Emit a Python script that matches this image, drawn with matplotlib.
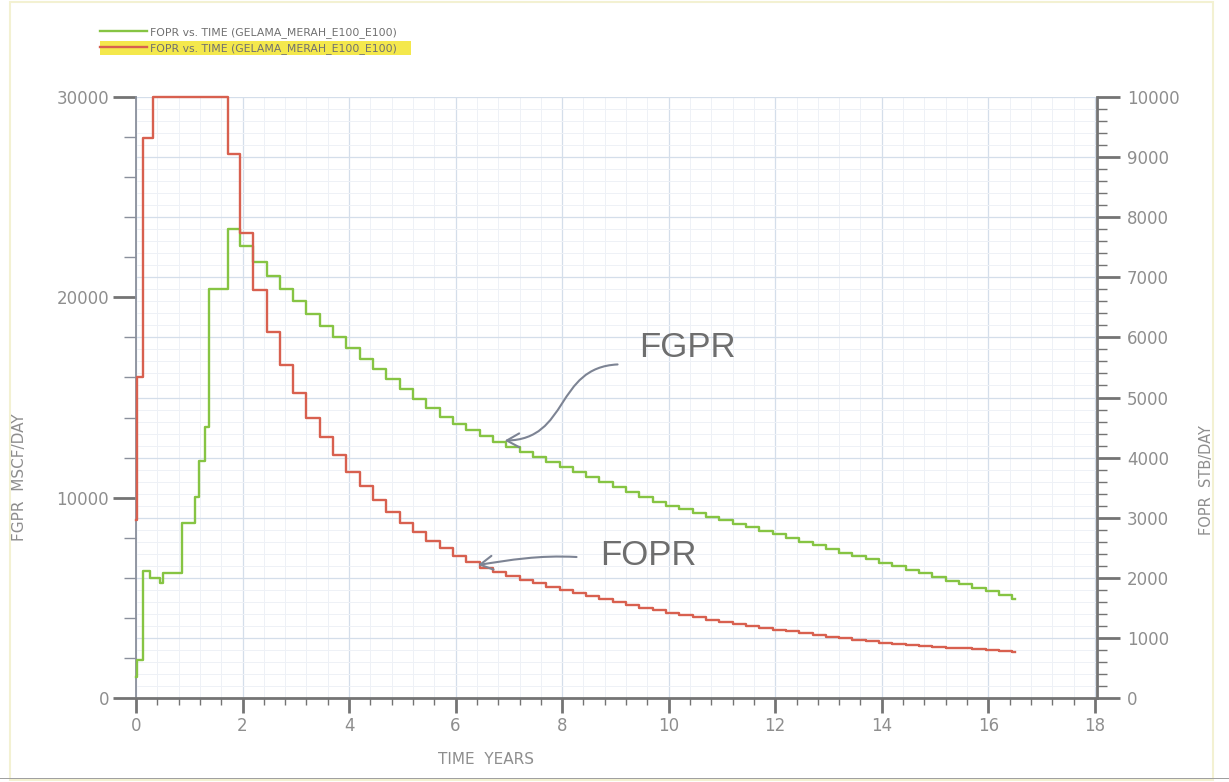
import matplotlib
matplotlib.use("Agg")
import matplotlib.pyplot as plt
from matplotlib.ticker import MultipleLocator
from matplotlib.patches import Rectangle, FancyArrowPatch
from matplotlib.path import Path

# ---------------- data ----------------
legend_labels = ["FOPR vs. TIME (GELAMA_MERAH_E100_E100)",
                 "FOPR vs. TIME (GELAMA_MERAH_E100_E100)"]

# early, irregular time steps (years)
fgpr_early_t = [0.0, 0.02, 0.13, 0.26, 0.45, 0.50, 0.86, 1.10, 1.18, 1.30, 1.37, 1.73]
fgpr_early_v = [1050, 1900, 6350, 6000, 5750, 6250, 8750, 10050, 11850, 13550, 20400, 23400]
fopr_early_t = [0.0, 0.02, 0.13, 0.32, 1.73]
fopr_early_v = [2960, 5340, 9320, 10000, 9050]

# quarterly report times (years)
report_t = [1.95, 2.20, 2.45, 2.70, 2.95, 3.20, 3.45, 3.70, 3.95, 4.20,
            4.45, 4.70, 4.95, 5.20, 5.45, 5.70, 5.95, 6.20, 6.45, 6.70,
            6.95, 7.20, 7.45, 7.70, 7.95, 8.20, 8.45, 8.70, 8.95, 9.20,
            9.45, 9.70, 9.95, 10.20, 10.45, 10.70, 10.95, 11.20, 11.45, 11.70,
            11.95, 12.20, 12.45, 12.70, 12.95, 13.20, 13.45, 13.70, 13.95, 14.20,
            14.45, 14.70, 14.95, 15.20, 15.45, 15.70, 15.95, 16.20, 16.45]
end_t = 16.5

# FGPR, MSCF/DAY (left axis)
fgpr_q = [22550, 21750, 21050, 20400, 19800, 19150, 18550, 18000, 17450, 16900,
          16400, 15900, 15400, 14950, 14500, 14050, 13700, 13380, 13080, 12800,
          12530, 12270, 12010, 11760, 11510, 11270, 11015, 10760, 10510, 10260,
          10010, 9800, 9600, 9410, 9230, 9050, 8870, 8700, 8530, 8360,
          8190, 8000, 7810, 7620, 7430, 7260, 7090, 6920, 6750, 6580,
          6400, 6220, 6040, 5860, 5680, 5500, 5320, 5140, 4950]

# FOPR, STB/DAY (right axis)
fopr_q = [7740, 6790, 6090, 5540, 5075, 4660, 4340, 4040, 3760, 3520,
          3300, 3100, 2920, 2760, 2620, 2490, 2370, 2260, 2170, 2100,
          2035, 1970, 1910, 1850, 1795, 1740, 1690, 1640, 1590, 1545,
          1500, 1460, 1420, 1380, 1340, 1305, 1270, 1235, 1200, 1168,
          1137, 1107, 1078, 1050, 1022, 995, 968, 942, 917, 901,
          886, 870, 855, 840, 826, 812, 798, 784, 770]

fgpr_t = fgpr_early_t + report_t + [end_t]
fgpr_v = fgpr_early_v + fgpr_q + [fgpr_q[-1]]
fopr_t = fopr_early_t + report_t + [end_t]
fopr_v = fopr_early_v + fopr_q + [fopr_q[-1]]

# ---------------- figure ----------------
W, H = 1229, 782
fig = plt.figure(figsize=(W / 100, H / 100), dpi=100)
fig.patch.set_facecolor("white")

green = "#86c443"
red = "#d8604f"
axis_gray = "#8a909c"
tick_gray = "#747474"
text_gray = "#8e8e8e"

rect = [136 / W, 1 - 698 / H, (1097 - 136) / W, (698 - 97) / H]

# grid axes (bottom layer)
axg = fig.add_axes(rect)
axg.set_xlim(0, 18.04)
axg.set_ylim(0, 10000)
axg.xaxis.set_major_locator(MultipleLocator(2))
axg.xaxis.set_minor_locator(MultipleLocator(0.4))
axg.yaxis.set_major_locator(MultipleLocator(1000))
axg.yaxis.set_minor_locator(MultipleLocator(200))
axg.grid(which="major", color="#d4deea", lw=0.9)
axg.grid(which="minor", color="#eef1f6", lw=0.7)
axg.tick_params(which="both", length=0, labelbottom=False, labelleft=False)
for s in axg.spines.values():
    s.set_visible(False)

ax1 = fig.add_axes(rect)
ax1.patch.set_visible(False)
ax2 = ax1.twinx()
ax2.patch.set_visible(False)

ax1.set_xlim(0, 18.04)
ax1.set_ylim(0, 30000)
ax2.set_ylim(0, 10000)

ln_g, = ax1.plot(fgpr_t, fgpr_v, drawstyle="steps-post", color=green, lw=1.7,
                 clip_on=False, zorder=3)
ln_r, = ax2.plot(fopr_t, fopr_v, drawstyle="steps-post", color=red, lw=1.7,
                 clip_on=False, zorder=3)

# ticks
ax1.xaxis.set_major_locator(MultipleLocator(2))
ax1.xaxis.set_minor_locator(MultipleLocator(0.4))
ax1.yaxis.set_major_locator(MultipleLocator(10000))
ax1.yaxis.set_minor_locator(MultipleLocator(2000))
ax2.yaxis.set_major_locator(MultipleLocator(1000))
ax2.yaxis.set_minor_locator(MultipleLocator(200))

ax1.tick_params(axis="y", which="major", direction="out", length=16.5, width=2,
                color=tick_gray, labelsize=12, labelcolor=text_gray, pad=3)
ax1.tick_params(axis="y", which="minor", direction="out", length=8.5, width=1,
                color=axis_gray)
ax1.tick_params(axis="x", which="major", direction="out", length=11, width=2,
                color=tick_gray, labelsize=12, labelcolor=text_gray, pad=3)
ax1.tick_params(axis="x", which="minor", direction="out", length=5, width=1,
                color=tick_gray)
ax2.tick_params(axis="y", which="major", direction="out", length=16.5, width=2,
                color=tick_gray, labelsize=12, labelcolor=text_gray, pad=5)
ax2.tick_params(axis="y", which="minor", direction="out", length=7, width=1,
                color=tick_gray)

for ax in (ax1, ax2):
    ax.spines["top"].set_visible(False)
ax1.spines["right"].set_visible(False)
ax2.spines["left"].set_visible(False)
ax2.spines["bottom"].set_visible(False)
ax1.spines["left"].set_color(axis_gray)
ax1.spines["left"].set_linewidth(1.3)
ax1.spines["bottom"].set_color(tick_gray)
ax1.spines["bottom"].set_linewidth(2)
ax2.spines["right"].set_color(tick_gray)
ax2.spines["right"].set_linewidth(2)

# axis titles
fig.text(20 / W, 1 - 477 / H, "FGPR  MSCF/DAY", rotation=90, ha="center",
         va="center", fontsize=11, color=text_gray)
fig.text(1206 / W, 1 - 480 / H, "FOPR  STB/DAY", rotation=90, ha="center",
         va="center", fontsize=10.5, color=text_gray)
fig.text(438 / W, 1 - 760 / H, "TIME  YEARS", ha="left", va="center",
         fontsize=11, color=text_gray)

# annotations
arrow_gray = "#7d8494"
ax1.text(10.36, 17500, "FGPR", fontsize=25, color="#6e6e6e",
         family="Liberation Sans", ha="center", va="center")
ax2.text(9.62, 2363, "FOPR", fontsize=25, color="#6e6e6e",
         family="Liberation Sans", ha="center", va="center")

fgpr_arrow = Path([(9.04, 16650), (7.86, 16500), (8.14, 12900), (6.92, 12850)],
                  [Path.MOVETO, Path.CURVE4, Path.CURVE4, Path.CURVE4])
ax1.add_patch(FancyArrowPatch(path=fgpr_arrow, arrowstyle="->,head_length=9,head_width=5",
                              color=arrow_gray, lw=1.5, zorder=5))
fopr_arrow = Path([(8.27, 2346), (7.56, 2380), (7.02, 2296), (6.42, 2213)],
                  [Path.MOVETO, Path.CURVE4, Path.CURVE4, Path.CURVE4])
ax2.add_patch(FancyArrowPatch(path=fopr_arrow, arrowstyle="->,head_length=9,head_width=5",
                              color=arrow_gray, lw=1.5, zorder=5))

# legend with yellow highlight behind second entry
fig.patches.append(Rectangle((100 / W, 1 - 55 / H), 311 / W, 14 / H,
                             transform=fig.transFigure, facecolor="#f4e84c",
                             edgecolor="none", zorder=0))
leg = fig.legend([ln_g, ln_r], legend_labels, loc="upper left",
                 bbox_to_anchor=(100 / W, 1 - 27 / H), frameon=False,
                 fontsize=7.8, handlelength=4.3, handletextpad=0.3,
                 labelspacing=0.45, borderpad=0, borderaxespad=0)
for t in leg.get_texts():
    t.set_color("#707070")

# faint outer frame
fig.patches.append(Rectangle((10 / W, 2 / H), 1203 / W, 778 / H,
                             transform=fig.transFigure, facecolor="none",
                             edgecolor="#f3f1d2", lw=1.5, zorder=0))
fig.patches.append(Rectangle((0, 3 / H), 1, 1.5 / H, transform=fig.transFigure,
                             facecolor="#a0a0a0", edgecolor="none", zorder=0))

fig.savefig("out.png", dpi=100)
